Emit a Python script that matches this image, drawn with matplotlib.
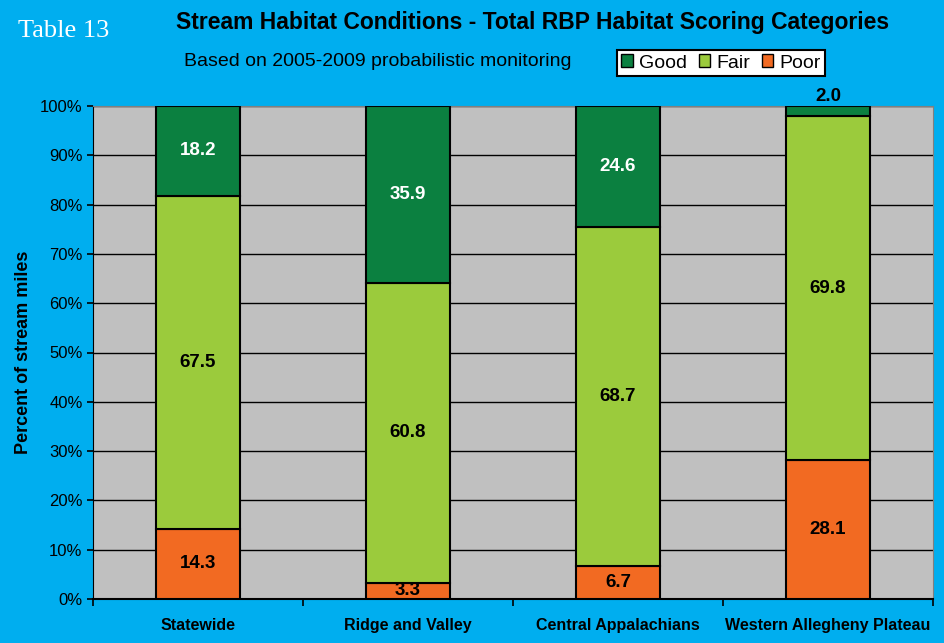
import matplotlib.pyplot as plt
import numpy as np

plt.rcParams["font.family"] = ["Liberation Sans", "DejaVu Sans"]

# ── data ──────────────────────────────────────────────────────────────────────
regions = ["Statewide", "Ridge and Valley", "Central Appalachians",
           "Western Allegheny Plateau"]
poor = [14.3, 3.3, 6.7, 28.1]
fair = [67.5, 60.8, 68.7, 69.8]
good = [18.2, 35.9, 24.6, 2.0]

C_GOOD = "#0b8040"
C_FAIR = "#9bcb3c"
C_POOR = "#f26a22"
BG = "#00aeef"

fig = plt.figure(figsize=(9.45, 6.43), dpi=100, facecolor=BG)
ax = fig.add_axes([93 / 945, 1 - 599 / 643, 840 / 945, 493 / 643])
ax.set_facecolor("#c0c0c0")

x = np.arange(len(regions))
w = 0.40
poor_a = np.array(poor)
fair_a = np.array(fair)
good_a = np.array(good)
kw = dict(width=w, edgecolor="black", linewidth=1.5, zorder=3)
ax.bar(x, poor_a, color=C_POOR, label="Poor", **kw)
ax.bar(x, fair_a, bottom=poor_a, color=C_FAIR, label="Fair", **kw)
ax.bar(x, good_a, bottom=poor_a + fair_a, color=C_GOOD, label="Good", **kw)

# value labels
for i in range(len(regions)):
    ax.text(x[i], poor_a[i] / 2 if poor_a[i] > 5 else 0.1, f"{poor[i]:.1f}",
            ha="center", va="center" if poor_a[i] > 5 else "bottom",
            fontsize=13.5, fontweight="bold", color="black", zorder=4)
    ax.text(x[i], poor_a[i] + fair_a[i] / 2, f"{fair[i]:.1f}", ha="center",
            va="center", fontsize=13.5, fontweight="bold", color="black",
            zorder=4)
    if good_a[i] > 5:
        ax.text(x[i], poor_a[i] + fair_a[i] + good_a[i] / 2, f"{good[i]:.1f}",
                ha="center", va="center", fontsize=13.5, fontweight="bold",
                color="white", zorder=4)
    else:
        ax.text(x[i], 100.3, f"{good[i]:.1f}", ha="center", va="bottom",
                fontsize=13.5, fontweight="bold", color="black", zorder=4,
                clip_on=False)

ax.set_xlim(-0.5, len(regions) - 0.5)
ax.set_ylim(0, 100)
ax.set_yticks(np.arange(0, 101, 10))
ax.set_yticklabels([f"{v}%" for v in range(0, 101, 10)], fontsize=12)
ax.yaxis.grid(True, color="black", linewidth=1, zorder=0)
ax.set_axisbelow(True)

ax.set_xticks(np.arange(-0.5, len(regions), 1.0))
ax.set_xticklabels([])
ax.set_xticks(x, minor=True)
ax.set_xticklabels(regions, minor=True, fontsize=11.5, fontweight="bold")
ax.tick_params(axis="x", which="minor", length=0, pad=14)
ax.tick_params(axis="x", which="major", direction="out", length=5, width=1.2)
ax.tick_params(axis="y", direction="out", length=4, width=1.2)

for s in ["top", "right"]:
    ax.spines[s].set_color("#808080")
ax.spines["left"].set_color("black")
ax.spines["bottom"].set_color("black")
ax.spines["bottom"].set_linewidth(1.5)

ax.set_ylabel("Percent of stream miles", fontsize=13, fontweight="bold",
              labelpad=6)

fig.text(18 / 945, 1 - 31 / 643, "Table 13", color="white",
         fontsize=19, family="Liberation Serif", va="center", ha="left")
fig.text(533 / 945, 1 - 22 / 643,
         "Stream Habitat Conditions - Total RBP Habitat Scoring Categories",
         fontsize=16.5, fontweight="bold", ha="center", va="center")
fig.text(378 / 945, 1 - 62 / 643,
         "Based on 2005-2009 probabilistic monitoring",
         fontsize=14, ha="center", va="center")

handles, labels = ax.get_legend_handles_labels()
leg = fig.legend(handles[::-1], labels[::-1], ncol=3,
                 loc="center", bbox_to_anchor=(721 / 945, 1 - 63 / 643),
                 fontsize=14, frameon=True, fancybox=False, framealpha=1,
                 handlelength=0.6, handleheight=0.6, handletextpad=0.3,
                 columnspacing=0.6, borderpad=0.25, borderaxespad=0)
leg.get_frame().set_edgecolor("black")
leg.get_frame().set_facecolor("white")
leg.get_frame().set_linewidth(1.5)
for h in leg.legend_handles:
    h.set_linewidth(1)

fig.savefig("out.png", dpi=100, facecolor=BG)
